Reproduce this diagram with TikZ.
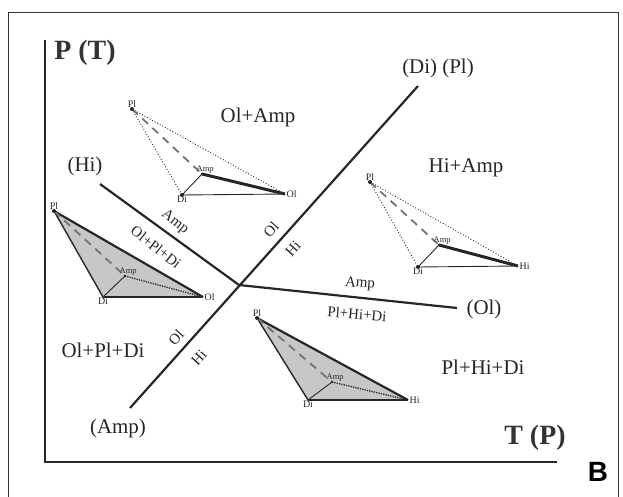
\documentclass[tikz,border=0pt]{standalone}
\usepackage{fontspec}
\setmainfont{Liberation Serif}
\newfontfamily\bsans{Liberation Sans}
\usetikzlibrary{positioning}
\tikzset{
  ink/.style={draw=black!85},
  phaseline/.style={ink, line width=2.2pt},
  axisline/.style={ink, line width=2pt},
  region/.style={font=\fontsize{21}{24}\selectfont, text=black!85, inner sep=0pt},
  axislab/.style={font=\fontsize{28}{30}\selectfont\bfseries, text=black!80, inner sep=0pt},
  linelab/.style={font=\fontsize{15}{17}\selectfont, text=black!85, inner sep=0pt},
  vlab/.style={font=\fontsize{10}{11}\selectfont, text=black!85, inner sep=0.5pt},
  alab/.style={font=\fontsize{8.5}{9}\selectfont, text=black!85, inner sep=0.5pt},
  thin edge/.style={ink, line width=0.9pt},
  dot edge/.style={ink, line width=0.9pt, dotted},
  dense dot/.style={ink, line width=1.4pt, dash pattern=on 1.2pt off 1.2pt},
  thick edge/.style={ink, line width=3pt},
  mid edge/.style={ink, line width=2.2pt},
  dash edge/.style={draw=black!55, line width=1.8pt, dash pattern=on 8pt off 6pt},
  vdot/.style={circle, fill=black!85, inner sep=0pt, minimum size=4pt},
}
\begin{document}
\begin{tikzpicture}[x=1bp, y=-1bp]
\useasboundingbox (0,0) rectangle (623,497);
% frame
\draw[draw=black!80, line width=1pt] (8,500) -- (8,13) -- (618,13) -- (618,500);
% axes
\coordinate (ytop) at (45,40);
\coordinate (origin) at (45,462);
\coordinate (xend) at (557,462);
\draw[axisline] (ytop) -- (origin) -- (xend);
\node[axislab] (py) at (85,53) {P (T)};
\node[axislab] (tx) at (535,438) {T (P)};
\node[font=\fontsize{28}{30}\selectfont\bsans\bfseries, inner sep=0pt] (B) at (598,472) {B};

% invariant point and reactions
\coordinate (ip) at (239,285);
\coordinate (amp end) at (130,408);
\coordinate (dipl end) at (418,86);
\coordinate (hi end) at (100,184);
\coordinate (ol end) at (457,308);
\draw[phaseline] (amp end) -- (dipl end);
\draw[phaseline] (hi end) -- (ip) -- (ol end);
\node[region] (lamp) at (118,428) {(Amp)};
\node[region] (ldipl) at (438,68) {(Di) (Pl)};
\node[region] (lhi) at (85,166) {(Hi)};
\node[region] (lol) at (484,309) {(Ol)};

% labels along the reactions
\node[linelab, rotate=-38] (l1) at (175,222) {Amp};
\node[linelab, rotate=-38] (l2) at (156,247) {Ol+Pl+Di};
\node[linelab, rotate=48] (l3) at (271,230) {Ol};
\node[linelab, rotate=48] (l4) at (293,249) {Hi};
\node[linelab, rotate=48] (l5) at (176,338) {Ol};
\node[linelab, rotate=48] (l6) at (199,358) {Hi};
\node[linelab, rotate=-5] (l7) at (360,284) {Amp};
\node[linelab, rotate=-5] (l8) at (357,314) {Pl+Hi+Di};

% field labels
\node[region] (r1) at (258,117) {Ol+Amp};
\node[region] (r2) at (466,168) {Hi+Amp};
\node[region] (r3) at (103,350) {Ol+Pl+Di};
\node[region] (r4) at (483,367) {Pl+Hi+Di};

% triangle A (Ol+Amp), unshaded
\coordinate (aPl) at (132,109);
\coordinate (aDi) at (182,195);
\coordinate (aOl) at (285,194);
\coordinate (aAmp) at (202,174);
\draw[dot edge] (aPl) -- (aDi);
\draw[dot edge] (aPl) -- (aOl);
\draw[thin edge] (aDi) -- (aOl);
\draw[thin edge] (aDi) -- (aAmp);
\draw[thick edge] (aAmp) -- (aOl);
\draw[dash edge] (aPl) -- (aAmp);
\node[vdot] at (aPl) {}; \node[vdot] at (aDi) {}; \node[vdot, minimum size=3pt] at (aAmp) {};
\node[vlab, above=1pt of aPl] (aPlL) {Pl};
\node[vlab, below=0pt of aDi] (aDiL) {Di};
\node[vlab, right=1pt of aOl] (aOlL) {Ol};
\node[alab, above right=0pt and -6pt of aAmp] (aAmpL) {Amp};

% triangle B (Hi+Amp), unshaded
\coordinate (bPl) at (370,182);
\coordinate (bDi) at (418,267);
\coordinate (bHi) at (518,266);
\coordinate (bAmp) at (439,245);
\draw[dot edge] (bPl) -- (bDi);
\draw[dot edge] (bPl) -- (bHi);
\draw[thin edge] (bDi) -- (bHi);
\draw[thin edge] (bDi) -- (bAmp);
\draw[thick edge] (bAmp) -- (bHi);
\draw[dash edge] (bPl) -- (bAmp);
\node[vdot] at (bPl) {}; \node[vdot] at (bDi) {}; \node[vdot, minimum size=3pt] at (bAmp) {};
\node[vlab, above=1pt of bPl] (bPlL) {Pl};
\node[vlab, below=0pt of bDi] (bDiL) {Di};
\node[vlab, right=1pt of bHi] (bHiL) {Hi};
\node[alab, above right=0pt and -6pt of bAmp] (bAmpL) {Amp};

% triangle C (Ol+Pl+Di), shaded
\coordinate (cPl) at (54,211);
\coordinate (cDi) at (103,297);
\coordinate (cOl) at (203,297);
\coordinate (cAmp) at (125,276);
\fill[black!22] (cPl) -- (cDi) -- (cOl) -- cycle;
\draw[thin edge, line width=1.4pt] (cPl) -- (cDi);
\draw[mid edge] (cPl) -- (cOl);
\draw[mid edge] (cDi) -- (cOl);
\draw[thin edge] (cDi) -- (cAmp);
\draw[dense dot] (cAmp) -- (cOl);
\draw[dash edge] (cPl) -- (cAmp);
\node[vdot] at (cPl) {}; \node[vdot, minimum size=3pt] at (cAmp) {};
\node[vlab, above=1pt of cPl] (cPlL) {Pl};
\node[vlab, below=0pt of cDi] (cDiL) {Di};
\node[vlab, right=1pt of cOl] (cOlL) {Ol};
\node[alab, above right=0pt and -6pt of cAmp] (cAmpL) {Amp};

% triangle D (Pl+Hi+Di), shaded
\coordinate (dPl) at (257,318);
\coordinate (dDi) at (308,400);
\coordinate (dHi) at (408,400);
\coordinate (dAmp) at (332,382);
\fill[black!22] (dPl) -- (dDi) -- (dHi) -- cycle;
\draw[thin edge, line width=1.4pt] (dPl) -- (dDi);
\draw[mid edge] (dPl) -- (dHi);
\draw[mid edge] (dDi) -- (dHi);
\draw[thin edge] (dDi) -- (dAmp);
\draw[dense dot] (dAmp) -- (dHi);
\draw[dash edge] (dPl) -- (dAmp);
\node[vdot] at (dPl) {}; \node[vdot, minimum size=3pt] at (dAmp) {};
\node[vlab, above=1pt of dPl] (dPlL) {Pl};
\node[vlab, below=0pt of dDi] (dDiL) {Di};
\node[vlab, right=1pt of dHi] (dHiL) {Hi};
\node[alab, above right=0pt and -6pt of dAmp] (dAmpL) {Amp};
\end{tikzpicture}
\end{document}
